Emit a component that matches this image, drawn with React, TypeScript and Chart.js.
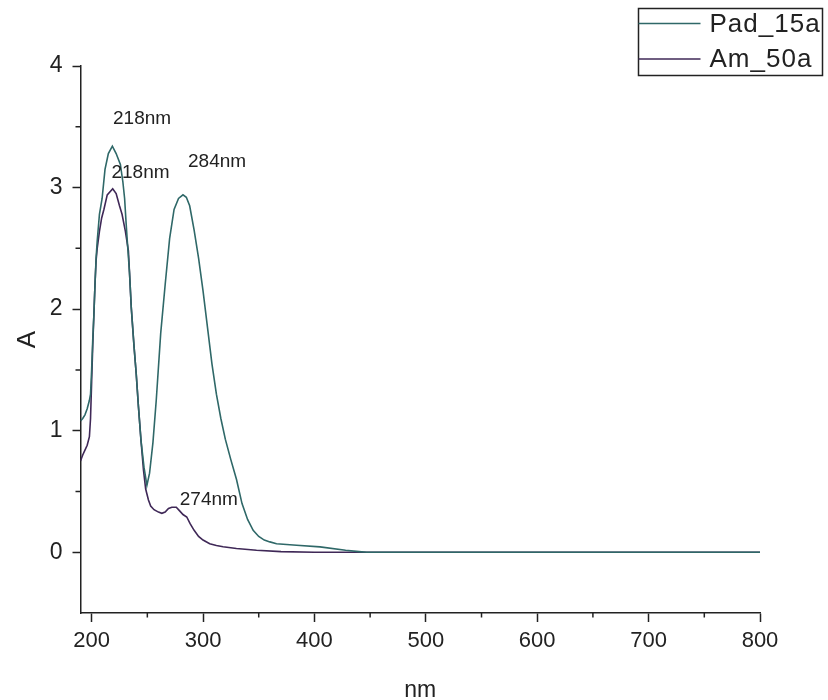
import React, { useEffect, useRef } from "react";
import { Chart, registerables } from "chart.js";

Chart.register(...registerables);

// ---- data ----
const seriesNames = ["Pad_15a", "Am_50a"];
const seriesColors = ["#2f6868", "#3f2857"];

const padWavelength = [
  190, 192, 194, 196, 198, 199, 200, 201, 202, 203, 204, 205, 207, 209.4, 212, 215, 218.6, 222, 225.8,
  228, 229.6, 231, 232, 234, 235.6, 238, 240, 242, 244.3, 247, 249.6, 252, 255, 258, 262, 266, 270,
  274, 278, 282, 285, 288, 292, 296, 300, 304, 308, 312, 316, 320, 325, 330, 335, 340, 345, 350, 355,
  360, 366, 384, 405, 428, 440, 447, 500, 600, 700, 800,
];
const padAbsorbance = [
  1.08, 1.1, 1.13, 1.18, 1.25, 1.3, 1.5, 1.75, 1.95, 2.2, 2.42, 2.56, 2.78, 2.91, 3.15, 3.28, 3.34, 3.28, 3.19,
  3.05, 2.91, 2.7, 2.56, 2.3, 2.01, 1.7, 1.47, 1.2, 0.92, 0.7, 0.55, 0.65, 0.9, 1.25, 1.8, 2.2, 2.58,
  2.82, 2.91, 2.94, 2.92, 2.85, 2.65, 2.42, 2.15, 1.85, 1.55, 1.3, 1.1, 0.93, 0.76, 0.6, 0.4, 0.27, 0.18, 0.13, 0.1,
  0.085, 0.07, 0.057, 0.044, 0.016, 0.005, 0, 0, 0, 0, 0,
];

const amWavelength = [
  190, 192, 194, 196, 198, 199, 200, 201, 202, 203, 204, 205, 207, 209, 211, 214, 218.9, 222, 225, 227.3,
  230.3, 233, 235.6, 238, 240, 242, 244.3, 246.5, 248.5, 251, 253, 256, 260, 263, 266, 269, 272, 276,
  279, 282, 285.4, 288.4, 292, 296, 300, 306, 312, 318, 330, 348, 370, 400, 500, 600, 700, 800,
];
const amAbsorbance = [
  0.75, 0.8, 0.84, 0.88, 0.95, 1.1, 1.4, 1.7, 1.95, 2.2, 2.4, 2.5, 2.64, 2.75, 2.82, 2.94, 2.99, 2.95, 2.85, 2.78,
  2.64, 2.48, 2.01, 1.7, 1.47, 1.2, 0.92, 0.68, 0.52, 0.43, 0.38, 0.35, 0.33, 0.32, 0.33, 0.36, 0.37, 0.37,
  0.34, 0.31, 0.29, 0.235, 0.18, 0.13, 0.1, 0.07, 0.055, 0.045, 0.03, 0.016, 0.005, 0, 0, 0, 0, 0,
];

const xTickValues = [200, 300, 400, 500, 600, 700, 800];
const xMinorTicks = [250, 350, 450, 550, 650, 750];
const yTickValues = [0, 1, 2, 3, 4];
const yMinorTicks = [0.5, 1.5, 2.5, 3.5];

const peakLabels = ["218nm", "218nm", "284nm", "274nm"];
const peakLabelNm = [219.2, 217.8, 286.5, 279.1];
const peakLabelA = [3.57, 3.12, 3.21, 0.43];

const FONT = '"Liberation Sans", Arial, sans-serif';
const INK = "#222222";

const minorTicksPlugin = {
  id: "minorTicks",
  afterDraw(chart: any) {
    const { ctx, scales, chartArea } = chart;
    ctx.save();
    ctx.strokeStyle = INK;
    ctx.lineWidth = 1.5;
    ctx.beginPath();
    for (const v of xMinorTicks) {
      const px = scales.x.getPixelForValue(v);
      ctx.moveTo(px, chartArea.bottom);
      ctx.lineTo(px, chartArea.bottom + 4.5);
    }
    for (const v of yMinorTicks) {
      const py = scales.y.getPixelForValue(v);
      ctx.moveTo(chartArea.left, py);
      ctx.lineTo(chartArea.left - 5, py);
    }
    ctx.stroke();
    ctx.restore();
  },
};

const peakLabelPlugin = {
  id: "peakLabels",
  afterDatasetsDraw(chart: any) {
    const { ctx, scales } = chart;
    ctx.save();
    ctx.font = `19px ${FONT}`;
    ctx.fillStyle = INK;
    ctx.textAlign = "left";
    ctx.textBaseline = "middle";
    peakLabels.forEach((t, i) => {
      ctx.fillText(t, scales.x.getPixelForValue(peakLabelNm[i]), scales.y.getPixelForValue(peakLabelA[i]));
    });
    ctx.restore();
  },
};

const boxLegendPlugin = {
  id: "boxLegend",
  afterDraw(chart: any) {
    const { ctx } = chart;
    const left = 638.5;
    const top = 8.5;
    const w = 184;
    const h = 67;
    const rows = [23.5, 59];
    ctx.save();
    ctx.fillStyle = "#ffffff";
    ctx.fillRect(left, top, w, h);
    ctx.strokeStyle = INK;
    ctx.lineWidth = 1.5;
    ctx.strokeRect(left, top, w, h);
    ctx.font = `26px ${FONT}`;
    try {
      (ctx as any).letterSpacing = "1px";
    } catch (e) {}
    ctx.textAlign = "left";
    ctx.textBaseline = "middle";
    chart.data.datasets.forEach((ds: any, i: number) => {
      const y = rows[i];
      ctx.strokeStyle = ds.borderColor;
      ctx.lineWidth = 1.5;
      ctx.beginPath();
      ctx.moveTo(left, y);
      ctx.lineTo(left + 62, y);
      ctx.stroke();
      ctx.fillStyle = INK;
      ctx.fillText(ds.label, left + 71, y + 1);
    });
    ctx.restore();
  },
};

export default function App() {
  const canvasRef = useRef<HTMLCanvasElement | null>(null);

  useEffect(() => {
    if (!canvasRef.current) return;
    const chart = new Chart(canvasRef.current, {
      type: "line",
      data: {
        datasets: [
          {
            label: seriesNames[0],
            data: padWavelength.map((x, i) => ({ x, y: padAbsorbance[i] })),
            borderColor: seriesColors[0],
            borderWidth: 1.6,
            pointRadius: 0,
            tension: 0,
            fill: false,
          },
          {
            label: seriesNames[1],
            data: amWavelength.map((x, i) => ({ x, y: amAbsorbance[i] })),
            borderColor: seriesColors[1],
            borderWidth: 1.6,
            pointRadius: 0,
            tension: 0,
            fill: false,
          },
        ],
      },
      options: {
        animation: false,
        responsive: true,
        maintainAspectRatio: false,
        layout: { padding: { left: 0, right: 68, top: 66, bottom: 0 } },
        plugins: {
          legend: { display: false },
          tooltip: { enabled: false },
        },
        scales: {
          x: {
            type: "linear",
            min: 190,
            max: 800,
            afterBuildTicks: (scale: any) => {
              scale.ticks = xTickValues.map((value) => ({ value }));
            },
            afterFit: (scale: any) => {
              scale.height = 87;
            },
            grid: {
              display: true,
              drawOnChartArea: false,
              drawTicks: true,
              tickLength: 9,
              tickColor: INK,
              tickWidth: 1.5,
            },
            border: { display: true, color: INK, width: 1.5 },
            ticks: {
              color: INK,
              font: { family: FONT, size: 22 },
              padding: 6,
              maxRotation: 0,
              autoSkip: false,
            },
            title: {
              display: true,
              text: "nm",
              color: INK,
              font: { family: FONT, size: 23, lineHeight: 0.8 },
              padding: { top: 0, bottom: 0 },
            },
          },
          y: {
            type: "linear",
            min: -0.5,
            max: 4,
            afterBuildTicks: (scale: any) => {
              scale.ticks = yTickValues.map((value) => ({ value }));
            },
            afterFit: (scale: any) => {
              scale.width = 80.5;
            },
            grid: {
              display: true,
              drawOnChartArea: false,
              drawTicks: true,
              tickLength: 8,
              tickColor: INK,
              tickWidth: 1.5,
            },
            border: { display: true, color: INK, width: 1.5 },
            ticks: {
              color: INK,
              font: { family: FONT, size: 23 },
              padding: 10,
              autoSkip: false,
            },
            title: {
              display: true,
              text: "A",
              color: INK,
              font: { family: FONT, size: 26 },
              padding: { top: 12, bottom: 0 },
            },
          },
        },
      },
      plugins: [minorTicksPlugin, peakLabelPlugin, boxLegendPlugin],
    });
    return () => chart.destroy();
  }, []);

  return (
    <div style={{ position: "fixed", left: 0, top: 0, width: 828, height: 700, background: "#ffffff" }}>
      <canvas ref={canvasRef} />
    </div>
  );
}
